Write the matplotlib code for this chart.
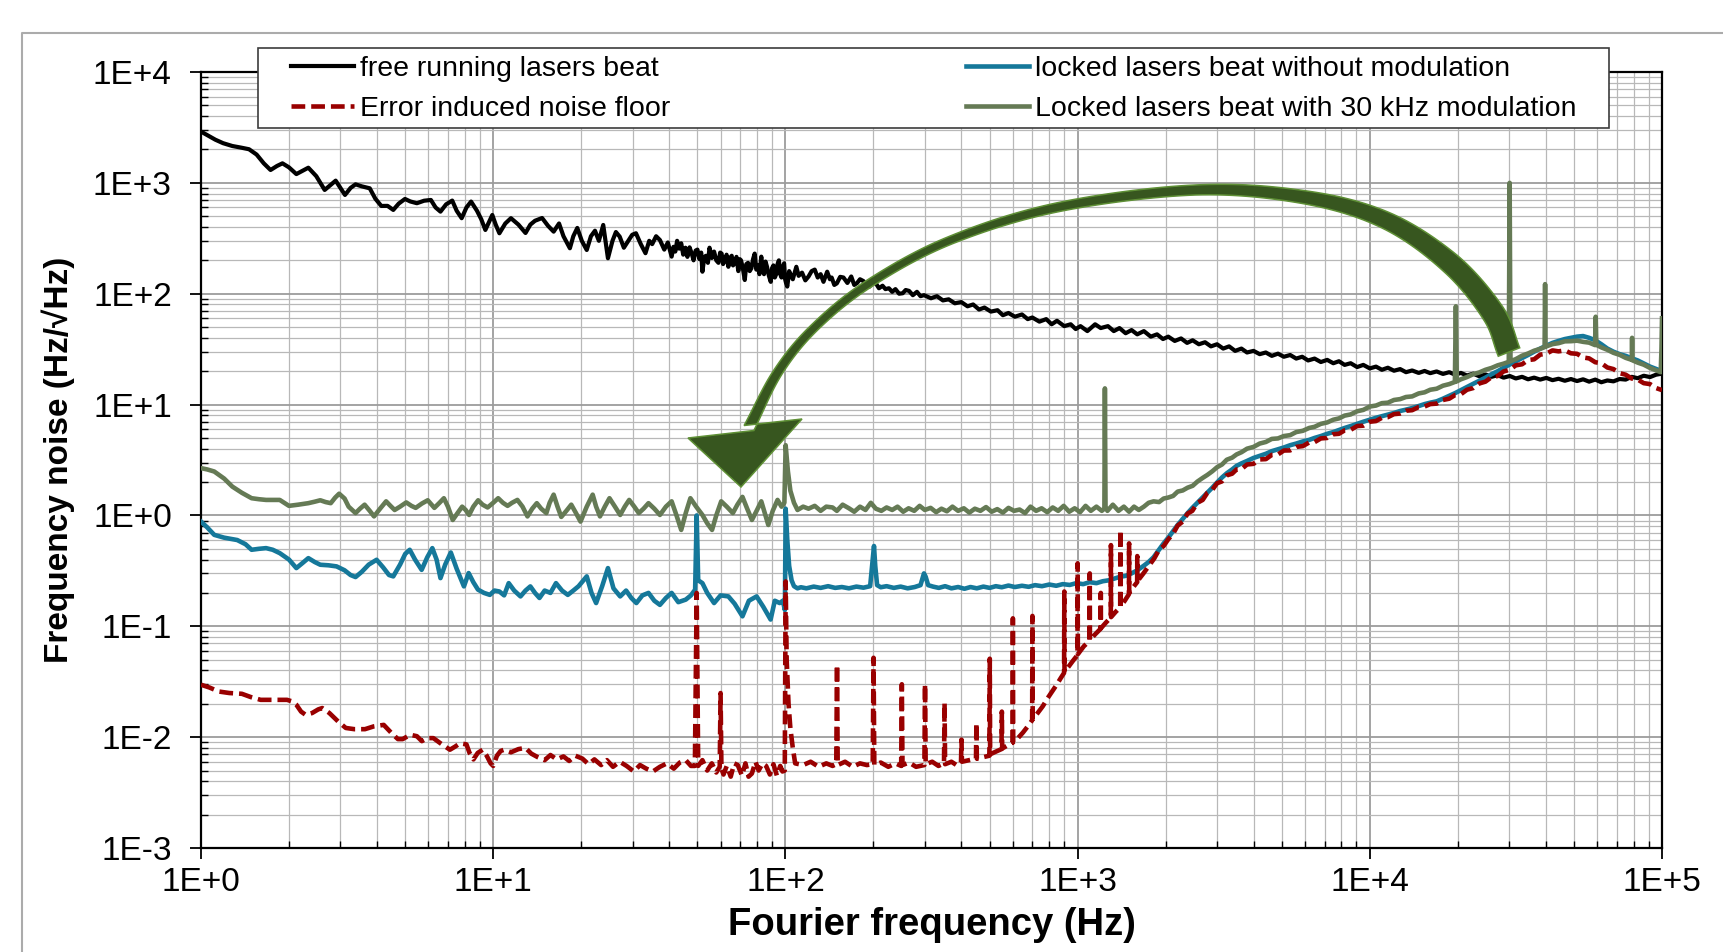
"""Frequency noise of the beat note: free running vs locked lasers."""
import matplotlib
matplotlib.use("Agg")
import matplotlib.pyplot as plt
import numpy as np
from matplotlib.lines import Line2D
from matplotlib.patches import Polygon, Rectangle
from matplotlib.ticker import LogLocator, NullFormatter

# (Fourier frequency in Hz, frequency noise in Hz/sqrt(Hz))
free_running = [
    (1.0, 2900), (1.05, 2700), (1.12, 2450), (1.19, 2280), (1.28, 2150), (1.37, 2080), (1.46, 2010),
    (1.55, 1800), (1.64, 1500), (1.73, 1306), (1.82, 1420), (1.90, 1500), (2.0, 1380), (2.12, 1200),
    (2.22, 1280), (2.33, 1370), (2.48, 1150), (2.65, 863), (2.78, 960), (2.89, 1047), (3.0, 900),
    (3.11, 778), (3.25, 900), (3.38, 970), (3.55, 930), (3.78, 893), (3.95, 720), (4.14, 619),
    (4.35, 620), (4.55, 570), (4.75, 650), (4.99, 716), (5.2, 680), (5.48, 655), (5.8, 690),
    (6.12, 701), (6.35, 600), (6.6, 550), (6.9, 640), (7.24, 692), (7.5, 560), (7.8, 480), (8.1, 600),
    (8.4, 678), (8.8, 560), (9.1, 470), (9.4, 376), (9.7, 450), (9.93, 513), (10.2, 420), (10.5, 351),
    (11.0, 430), (11.5, 480), (12.2, 420), (12.9, 353), (13.4, 420), (13.9, 455), (14.7, 482),
    (15.4, 410), (16.1, 363), (16.8, 430), (17.4, 330), (18.3, 257), (18.8, 330), (19.4, 392),
    (20.1, 300), (20.9, 248), (21.6, 330), (22.3, 370), (23.0, 300), (23.8, 417), (24.7, 209),
    (25.6, 300), (26.3, 360), (27.1, 327), (28.0, 260), (29.0, 300), (29.9, 340), (30.8, 351),
    (32.0, 280), (33.2, 232), (34.2, 300), (35.0, 280), (36.1, 330), (37.2, 305), (38.5, 250),
    (39.6, 290), (40.8, 216), (41.4, 265), (42.0, 240), (42.6, 300), (43.3, 255), (44.0, 285),
    (44.7, 225), (45.5, 260), (46.2, 215), (47.0, 262), (47.8, 230), (48.5, 200), (49.3, 245),
    (50.0, 250), (50.8, 205), (51.5, 235), (52.0, 158), (52.8, 215), (53.5, 220), (54.3, 190),
    (55.0, 260), (56.0, 210), (57.0, 240), (58.0, 200), (59.0, 190), (59.8, 235), (60.5, 230),
    (61.2, 185), (62.0, 200), (62.9, 225), (63.8, 175), (64.6, 210), (65.5, 220), (66.2, 180),
    (67.0, 190), (68.0, 215), (69.0, 160), (69.8, 205), (70.5, 200), (71.5, 170), (72.6, 133),
    (73.5, 185), (74.5, 190), (75.5, 160), (76.5, 170), (77.5, 205), (78.5, 230), (79.5, 165),
    (80.5, 180), (81.5, 150), (82.7, 216), (83.6, 160), (84.5, 150), (85.5, 195), (86.5, 175),
    (87.8, 145), (89.1, 128), (90.0, 170), (91.0, 180), (92.0, 140), (93.0, 150), (94.0, 185),
    (95.0, 200), (96.0, 150), (97.0, 140), (98.0, 175), (99.0, 188), (99.8, 135), (100.5, 125),
    (101.5, 116), (103, 160), (104, 150), (106, 135), (109, 175), (111, 145), (114, 155), (117, 132),
    (120, 143), (123, 160), (126, 165), (129, 140), (132, 150), (135, 128), (139, 158), (142, 135),
    (144, 140), (147, 120), (150, 124), (154, 142), (158, 140), (163, 125), (168, 143), (172, 120),
    (176, 125), (180, 135), (185, 130), (190, 115), (194, 116), (199, 128), (204, 124), (209, 112),
    (215, 118), (220, 110), (226, 112), (232, 104), (238, 110), (245, 100), (252, 101), (258, 108),
    (265, 106), (273, 97), (282, 104), (290, 95),
    (298, 97), (315, 91), (330, 95), (346, 87), (362, 89), (380, 82), (400, 84), (420, 77), (439, 80),
    (460, 72), (480, 75), (505, 69), (532, 71), (555, 64), (580, 67), (610, 62), (645, 65), (675, 59),
    (700, 61), (740, 56), (781, 59), (815, 53), (850, 57), (900, 51), (947, 53), (985, 48), (1023, 51),
    (1080, 46), (1148, 53), (1200, 49), (1270, 51), (1330, 46), (1391, 49), (1460, 44), (1530, 47),
    (1600, 43), (1686, 46), (1780, 41), (1870, 43), (1960, 39), (2043, 41), (2150, 37.5), (2260, 39.5),
    (2370, 36), (2476, 38), (2600, 35), (2730, 36.5), (2860, 33.5), (3000, 35), (3150, 32),
    (3300, 33.5), (3460, 30.5), (3636, 32), (3800, 29.5), (4000, 30.5), (4200, 28.5), (4406, 29.5),
    (4620, 27.5), (4850, 28.8), (5080, 27), (5340, 28), (5600, 26), (5870, 27), (6150, 25),
    (6470, 26), (6800, 24.2), (7150, 25.3), (7500, 23.6), (7840, 24.6), (8200, 22.8), (8600, 23.6),
    (9050, 21.8), (9500, 22.8), (10000, 21.2), (10500, 22), (11000, 20.6), (11530, 21.5),
    (12100, 20.2), (12700, 20.9), (13300, 19.6), (13960, 20.3), (14700, 19.3), (15400, 20.1),
    (16100, 19.2), (16930, 19.9), (17800, 18.9), (18700, 19.6), (19600, 18.6), (20500, 19.3),
    (21500, 18.3), (22600, 19), (23700, 18), (24880, 18.7), (26100, 17.8), (27400, 18.4),
    (28700, 17.5), (30150, 18.1), (31600, 17.2), (33200, 17.8), (34800, 16.9), (36500, 17.5),
    (38300, 16.8), (40200, 17.4), (42200, 16.6), (44250, 17.1), (46500, 16.4), (48800, 17),
    (51200, 16.3), (53700, 16.9), (56300, 16.1), (59100, 16.8), (62000, 15.9), (65000, 16.5),
    (68200, 16.2), (71600, 17), (75100, 16.8), (78700, 17.8), (82600, 17.3), (86600, 18.2),
    (91000, 17.7), (95400, 18.6), (100000, 19),
]

error_floor = [
    (1.0, 0.0297), (1.07, 0.028), (1.15, 0.0258), (1.25, 0.025), (1.38, 0.0246), (1.48, 0.023),
    (1.6, 0.0217), (1.75, 0.0217), (1.97, 0.0217), (2.05, 0.021), (2.12, 0.0196), (2.2, 0.017),
    (2.28, 0.0159), (2.4, 0.0165), (2.52, 0.0178), (2.6, 0.0183), (2.75, 0.0165), (2.95, 0.0138),
    (3.13, 0.0121), (3.35, 0.0118), (3.64, 0.0118), (3.9, 0.0125), (4.22, 0.0129), (4.5, 0.0108),
    (4.72, 0.0096), (4.9, 0.0096), (5.2, 0.0105), (5.48, 0.0102), (5.7, 0.0092), (5.95, 0.0098),
    (6.24, 0.0098), (6.6, 0.0088), (7.11, 0.0077), (7.4, 0.0082), (7.7, 0.0088), (8.1, 0.0086),
    (8.3, 0.0072), (8.56, 0.0063), (8.85, 0.0072), (9.2, 0.0077), (9.5, 0.0068), (9.8, 0.0058),
    (10.0, 0.0055), (10.3, 0.0068), (10.6, 0.0075), (10.9, 0.0077), (11.5, 0.0073), (12.2, 0.0078),
    (12.9, 0.008), (13.5, 0.0071), (14.2, 0.0066), (15.0, 0.0062), (15.7, 0.0069), (16.5, 0.0063),
    (17.4, 0.0067), (18.2, 0.0061), (19.1, 0.0068), (20.2, 0.0064), (21.2, 0.0057), (22.2, 0.0063),
    (23.4, 0.0056), (24.5, 0.0062), (25.7, 0.0054), (27.1, 0.006), (28.6, 0.0055), (30.3, 0.0049),
    (31.8, 0.0056), (33.4, 0.0052), (35.2, 0.0049), (37.2, 0.0054), (39.3, 0.0058), (41.5, 0.0052),
    (43.5, 0.0059), (45.6, 0.0062), (47.5, 0.0055), (49.0, 0.0055), (49.7, 0.2), (50.3, 0.0055),
    (52.0, 0.0062), (54.0, 0.005), (56.0, 0.0058), (58.0, 0.0048), (59.6, 0.0054), (60.0, 0.025),
    (60.4, 0.0052), (61.4, 0.0046), (63.0, 0.0055), (65.0, 0.0044), (66.8, 0.0058), (68.7, 0.0056),
    (71.0, 0.0045), (73.0, 0.0058), (74.8, 0.0044), (76.8, 0.0047), (79.0, 0.006), (81.0, 0.005),
    (83.5, 0.0058), (85.9, 0.0055), (88.5, 0.0046), (91.0, 0.0057), (93.5, 0.0045), (96.0, 0.0055),
    (97.7, 0.0049), (99.5, 0.005), (100.2, 0.254), (101.0, 0.05), (102.5, 0.02), (104.0, 0.012),
    (106.0, 0.008), (108.0, 0.0058), (115, 0.0056), (122, 0.006), (130, 0.0054), (138, 0.0058),
    (145, 0.0055), (149.3, 0.0057), (150.2, 0.045), (151, 0.0056), (160, 0.006), (170, 0.0054),
    (180, 0.0058), (190, 0.0056), (199, 0.0057), (200.3, 0.052), (201.5, 0.0056), (212, 0.0059),
    (225, 0.0054), (238, 0.0058), (249, 0.0055), (250.3, 0.030), (251.6, 0.0056), (265, 0.0059),
    (280, 0.0054), (299, 0.0056), (300.5, 0.030), (302, 0.0057), (318, 0.006), (334, 0.0055),
    (349, 0.0058), (350.5, 0.0204), (352, 0.0057), (370, 0.006), (385, 0.0056), (399, 0.0059),
    (400.5, 0.0095), (402, 0.006), (425, 0.0062), (449, 0.0064), (450.5, 0.0134), (452, 0.0064),
    (475, 0.0066), (499, 0.0068), (500.5, 0.051), (502, 0.007), (525, 0.0074), (549, 0.0078),
    (550.5, 0.017), (552, 0.0079), (575, 0.0084), (599, 0.0089), (600.5, 0.118), (602, 0.009),
    (625, 0.0098), (650, 0.011), (675, 0.0125), (699, 0.0142), (700.5, 0.124), (702, 0.0145),
    (730, 0.0165), (760, 0.019), (790, 0.0225), (820, 0.026), (850, 0.03), (875, 0.034), (899, 0.038),
    (900.5, 0.206), (902, 0.039), (930, 0.043), (965, 0.049), (999, 0.055), (1000.5, 0.37),
    (1002, 0.056), (1050, 0.066), (1099, 0.074), (1100.5, 0.30), (1102, 0.075), (1150, 0.085),
    (1199, 0.095), (1200.5, 0.2), (1202, 0.096), (1250, 0.108), (1299, 0.12), (1300.5, 0.54),
    (1302, 0.121), (1350, 0.135), (1399, 0.148), (1400.5, 0.74), (1402, 0.15), (1450, 0.17),
    (1499, 0.195), (1500.5, 0.56), (1502, 0.2), (1550, 0.225), (1599, 0.25), (1600.5, 0.43),
    (1602, 0.255), (1680, 0.3), (1752, 0.35), (1830, 0.41), (1900, 0.49), (1970, 0.53), (2043, 0.61),
    (2120, 0.68), (2200, 0.81), (2290, 0.88), (2380, 1.04), (2470, 1.1), (2570, 1.3), (2680, 1.38),
    (2780, 1.6), (2890, 1.7), (3000, 1.95), (3120, 2.03), (3240, 2.3), (3380, 2.38), (3500, 2.6),
    (3640, 2.62), (3800, 2.88), (4000, 2.92), (4200, 3.2), (4410, 3.22), (4620, 3.52), (4850, 3.55),
    (5080, 3.85), (5340, 3.86), (5600, 4.15), (5900, 4.22), (6200, 4.55), (6470, 4.58), (6800, 4.95),
    (7150, 5.0), (7500, 5.4), (7840, 5.45), (8200, 5.85), (8600, 5.92), (9050, 6.4), (9500, 6.45),
    (10000, 7.0), (10500, 7.1), (11000, 7.6), (11530, 7.7), (12100, 8.2), (12700, 8.3), (13300, 8.8),
    (13960, 8.9), (14700, 9.5), (15400, 9.6), (16100, 10.1), (16940, 10.2), (17800, 11.0),
    (18700, 11.3), (19600, 12.2), (20500, 12.4), (21500, 13.6), (22600, 14.1), (23700, 15.5),
    (24880, 16.1), (26100, 17.7), (27400, 18.1), (28700, 19.9), (30150, 20.6), (31600, 22.6),
    (33200, 23.1), (34800, 25.2), (36500, 25.6), (38300, 28.2), (40200, 28.8), (42200, 30.8),
    (44250, 30.2), (46500, 30.8), (48800, 29.0), (51200, 28.7), (53700, 26.6), (56300, 26.1),
    (59100, 24.1), (62000, 23.6), (65000, 21.6), (68200, 20.9), (71600, 19.2), (75100, 18.6),
    (78700, 17.2), (82600, 16.8), (86600, 15.6), (91000, 15.3), (95400, 14.1), (100000, 13.5),
]

locked_no_mod = [
    (1.0, 0.88), (1.05, 0.78), (1.11, 0.668), (1.2, 0.63), (1.33, 0.6), (1.42, 0.55), (1.49, 0.49),
    (1.58, 0.5), (1.67, 0.507), (1.76, 0.49), (1.86, 0.457), (2.0, 0.4), (2.12, 0.335), (2.22, 0.37),
    (2.33, 0.412), (2.45, 0.38), (2.56, 0.359), (2.73, 0.355), (2.91, 0.347), (3.1, 0.32),
    (3.25, 0.29), (3.38, 0.278), (3.55, 0.31), (3.75, 0.36), (3.99, 0.398), (4.2, 0.34), (4.4, 0.29),
    (4.55, 0.282), (4.8, 0.36), (5.0, 0.45), (5.18, 0.49), (5.4, 0.4), (5.69, 0.323), (5.95, 0.42),
    (6.19, 0.507), (6.4, 0.4), (6.6, 0.272), (6.85, 0.36), (7.16, 0.463), (7.5, 0.33), (7.94, 0.229),
    (8.24, 0.302), (8.55, 0.25), (8.87, 0.214), (9.3, 0.2), (9.74, 0.192), (10.1, 0.21),
    (10.5, 0.206), (10.9, 0.19), (11.3, 0.245), (11.8, 0.21), (12.4, 0.186), (12.9, 0.21),
    (13.4, 0.229), (13.9, 0.2), (14.4, 0.18), (15.0, 0.21), (15.7, 0.2), (16.4, 0.245), (17.2, 0.21),
    (18.0, 0.192), (18.8, 0.21), (19.6, 0.23), (20.9, 0.282), (21.7, 0.2), (22.5, 0.162),
    (23.6, 0.23), (24.7, 0.335), (25.8, 0.22), (27.2, 0.186), (28.5, 0.21), (29.7, 0.18),
    (30.9, 0.162), (32.4, 0.19), (34.0, 0.2), (35.6, 0.17), (37.2, 0.156), (39.0, 0.18), (40.8, 0.2),
    (43.0, 0.165), (45.6, 0.174), (47.5, 0.19), (49.1, 0.214), (49.7, 1.0), (50.3, 0.26),
    (52.0, 0.245), (54.0, 0.2), (57.0, 0.162), (60.0, 0.19), (63.8, 0.186), (67.0, 0.16),
    (71.3, 0.123), (75.0, 0.17), (79.7, 0.186), (84.0, 0.15), (89.0, 0.115), (92.0, 0.17),
    (95.6, 0.162), (98.0, 0.17), (99.6, 0.14), (100.2, 1.15), (101.5, 0.6), (103, 0.35), (105, 0.26),
    (107, 0.23), (110, 0.22), (113, 0.225), (118, 0.22), (125, 0.228), (132, 0.222), (140, 0.23),
    (148, 0.222), (156, 0.226), (165, 0.22), (175, 0.228), (185, 0.223), (195, 0.23), (199, 0.4),
    (201, 0.53), (203, 0.35), (206, 0.235), (212, 0.225), (222, 0.23), (235, 0.222), (248, 0.228),
    (262, 0.22), (277, 0.226), (290, 0.235), (298, 0.3), (302, 0.28), (308, 0.235), (320, 0.228),
    (335, 0.222), (352, 0.23), (370, 0.22), (390, 0.226), (410, 0.218), (430, 0.226), (452, 0.22),
    (476, 0.228), (500, 0.222), (525, 0.23), (550, 0.225), (580, 0.233), (610, 0.226), (645, 0.232),
    (680, 0.227), (715, 0.235), (755, 0.23), (800, 0.238), (845, 0.232), (890, 0.24), (940, 0.236),
    (990, 0.245), (1045, 0.24), (1100, 0.25), (1160, 0.245), (1220, 0.255), (1280, 0.26),
    (1340, 0.27), (1400, 0.28), (1460, 0.285), (1530, 0.3), (1600, 0.32), (1680, 0.35), (1750, 0.38),
    (1820, 0.42), (1900, 0.49), (1970, 0.56), (2043, 0.63), (2120, 0.72), (2200, 0.82), (2290, 0.93),
    (2380, 1.05), (2470, 1.17), (2570, 1.3), (2680, 1.45), (2780, 1.6), (2890, 1.78), (3000, 1.98),
    (3120, 2.2), (3240, 2.4), (3380, 2.6), (3500, 2.8), (3640, 2.95), (3800, 3.1), (4000, 3.3),
    (4200, 3.45), (4410, 3.6), (4620, 3.8), (4850, 3.95), (5080, 4.1), (5340, 4.3), (5600, 4.45),
    (5900, 4.65), (6200, 4.8), (6470, 5.0), (6800, 5.2), (7150, 5.45), (7500, 5.65), (7840, 5.9),
    (8200, 6.15), (8600, 6.4), (9050, 6.7), (9500, 7.0), (10000, 7.3), (10500, 7.6), (11000, 7.85),
    (11530, 8.1), (12100, 8.4), (12700, 8.75), (13300, 9.0), (13960, 9.3), (14700, 9.7),
    (15400, 10.1), (16100, 10.4), (16940, 10.7), (17800, 11.3), (18700, 12.0), (19600, 12.7),
    (20500, 13.5), (21500, 14.4), (22600, 15.4), (23700, 16.4), (24880, 17.5), (26100, 18.8),
    (27400, 20.0), (28700, 21.5), (30150, 23.0), (31600, 24.6), (33200, 26.3), (34800, 28.0),
    (36500, 30.0), (38300, 32.0), (40200, 34.0), (42200, 36.0), (44250, 37.5), (46500, 39.0),
    (48800, 40.0), (51200, 41.0), (53700, 41.5), (56300, 40.0), (59100, 38.0), (62000, 35.0),
    (65000, 32.0), (68200, 30.0), (71600, 28.5), (75100, 27.5), (78700, 26.2), (82600, 25.0),
    (86600, 23.5), (91000, 22.0), (95400, 21.0), (100000, 20.0),
]

locked_30k_mod = [
    (1.0, 2.67), (1.05, 2.6), (1.11, 2.49), (1.2, 2.15), (1.28, 1.82), (1.38, 1.6), (1.49, 1.43),
    (1.58, 1.4), (1.67, 1.38), (1.76, 1.38), (1.86, 1.38), (2.0, 1.22), (2.15, 1.25), (2.33, 1.29),
    (2.45, 1.33), (2.56, 1.37), (2.67, 1.32), (2.78, 1.29), (2.88, 1.45), (2.97, 1.57), (3.1, 1.42),
    (3.2, 1.2), (3.38, 1.05), (3.5, 1.15), (3.63, 1.25), (3.78, 1.1), (3.91, 0.98), (4.1, 1.15),
    (4.3, 1.34), (4.45, 1.22), (4.6, 1.12), (4.8, 1.2), (5.04, 1.31), (5.25, 1.22), (5.43, 1.17),
    (5.7, 1.28), (5.97, 1.37), (6.15, 1.25), (6.29, 1.17), (6.55, 1.3), (6.78, 1.43), (7.0, 1.2),
    (7.27, 0.91), (7.55, 1.05), (7.83, 1.2), (8.05, 1.12), (8.27, 1.01), (8.55, 1.2), (8.88, 1.37),
    (9.2, 1.25), (9.57, 1.18), (10.0, 1.3), (10.4, 1.43), (10.8, 1.3), (11.2, 1.22), (11.6, 1.3),
    (12.1, 1.38), (12.6, 1.2), (13.1, 0.98), (13.6, 1.15), (14.1, 1.29), (14.6, 1.15), (15.2, 1.05),
    (15.6, 1.3), (16.1, 1.54), (16.6, 1.2), (17.1, 0.97), (17.8, 1.1), (18.5, 1.25), (19.2, 1.05),
    (19.9, 0.88), (20.9, 1.2), (21.9, 1.54), (22.5, 1.2), (23.2, 0.98), (24.1, 1.2), (25.0, 1.43),
    (26.1, 1.2), (27.2, 1.01), (28.2, 1.2), (29.2, 1.38), (30.4, 1.2), (31.5, 1.05), (32.7, 1.15),
    (34.0, 1.29), (35.6, 1.15), (37.2, 1.01), (39.0, 1.2), (40.8, 1.34), (42.4, 1.0), (44.0, 0.74),
    (45.6, 1.05), (47.3, 1.43), (49.5, 1.2), (52.0, 1.01), (54.0, 0.85), (56.1, 0.74), (58.0, 1.0),
    (60.3, 1.34), (63.0, 1.2), (66.1, 1.05), (68.5, 1.25), (71.3, 1.47), (74.0, 1.15), (76.8, 0.91),
    (79.7, 1.1), (82.7, 1.34), (85.0, 1.05), (87.4, 0.82), (90.5, 1.1), (94.0, 1.38), (97.0, 1.2),
    (99.2, 1.3), (100.2, 4.3), (102, 2.5), (104, 1.67), (107, 1.3), (110, 1.12), (115, 1.2),
    (120, 1.15), (126, 1.22), (132, 1.1), (138, 1.2), (145, 1.18), (150, 1.1), (157, 1.25),
    (165, 1.16), (172, 1.08), (180, 1.2), (188, 1.12), (196, 1.3), (204, 1.15), (213, 1.1),
    (222, 1.18), (232, 1.12), (242, 1.2), (253, 1.08), (264, 1.16), (276, 1.1), (288, 1.22),
    (300, 1.12), (314, 1.17), (328, 1.07), (342, 1.15), (357, 1.09), (373, 1.2), (390, 1.1),
    (408, 1.16), (426, 1.06), (445, 1.15), (465, 1.1), (486, 1.19), (508, 1.08), (531, 1.14),
    (555, 1.06), (580, 1.17), (606, 1.1), (633, 1.13), (661, 1.05), (690, 1.2), (721, 1.1),
    (753, 1.16), (787, 1.07), (822, 1.18), (858, 1.1), (896, 1.22), (936, 1.08), (977, 1.16),
    (1020, 1.07), (1065, 1.22), (1110, 1.1), (1160, 1.2), (1210, 1.1), (1235, 1.15), (1240, 14.0),
    (1246, 1.2), (1265, 1.1), (1320, 1.25), (1380, 1.1), (1440, 1.2), (1500, 1.08), (1560, 1.2),
    (1620, 1.12), (1686, 1.2), (1750, 1.3), (1820, 1.34), (1900, 1.32), (1970, 1.42), (2043, 1.45),
    (2123, 1.5), (2200, 1.64), (2290, 1.68), (2380, 1.78), (2476, 1.85), (2570, 2.02), (2680, 2.18),
    (2780, 2.32), (2890, 2.5), (3000, 2.72), (3120, 2.88), (3240, 3.18), (3380, 3.32), (3500, 3.55),
    (3640, 3.72), (3800, 4.0), (4000, 4.15), (4200, 4.45), (4410, 4.6), (4620, 4.9), (4850, 4.95),
    (5080, 5.2), (5340, 5.3), (5600, 5.65), (5900, 5.8), (6200, 6.15), (6470, 6.3), (6800, 6.7),
    (7150, 6.9), (7500, 7.3), (7840, 7.5), (8200, 7.95), (8600, 8.15), (9050, 8.7), (9500, 8.95),
    (10000, 9.6), (10500, 9.8), (11000, 10.3), (11530, 10.4), (12100, 11.0), (12700, 11.2),
    (13300, 11.7), (13960, 11.85), (14700, 12.6), (15400, 12.9), (16100, 13.6), (16940, 13.9),
    (17800, 14.8), (18700, 15.3), (19550, 16.0), (19700, 77.0), (19850, 16.2), (20500, 16.9),
    (21500, 17.7), (22600, 18.8), (23700, 19.5), (24880, 20.6), (26100, 21.4), (27400, 22.6),
    (28700, 23.4), (29900, 24.3), (30100, 1000.0), (30300, 24.6), (31600, 25.7), (33200, 27.6),
    (34800, 28.9), (36500, 30.6), (38300, 31.8), (39650, 33.0), (39800, 122.0), (39950, 33.3),
    (42200, 35.1), (44250, 35.8), (46500, 37.2), (48800, 37.3), (51200, 37.7), (53700, 36.8),
    (56300, 36.2), (59000, 34.4), (59300, 62.0), (59600, 34.6), (62000, 32.8), (65000, 31.2),
    (68200, 29.3), (71600, 28.1), (75100, 26.4), (78800, 25.3), (79000, 40.0), (79200, 25.1),
    (82600, 23.9), (86600, 22.9), (91000, 21.4), (95400, 20.4), (99000, 19.6), (99600, 32.0),
    (100000, 60.0),
]

series_labels = [
    "free running lasers beat",
    "Error induced noise floor",
    "locked lasers beat without modulation",
    "Locked lasers beat with 30 kHz modulation",
]
x_ticks = [1e0, 1e1, 1e2, 1e3, 1e4, 1e5]
x_tick_labels = ["1E+0", "1E+1", "1E+2", "1E+3", "1E+4", "1E+5"]
y_ticks = [1e-3, 1e-2, 1e-1, 1e0, 1e1, 1e2, 1e3, 1e4]
y_tick_labels = ["1E-3", "1E-2", "1E-1", "1E+0", "1E+1", "1E+2", "1E+3", "1E+4"]

# curved arrow drawn over the chart (picture pixels, y downwards)
arrow_path = [(1509, 352), (1493, 313), (1450, 263), (1385, 220), (1303, 197), (1195, 190),
              (1059, 207), (951, 240), (870, 283), (815, 327), (778, 372), (749, 428)]
arrow_width = [23, 23, 21, 17, 13, 10, 9, 8, 8, 8, 9, 11]
arrow_head = [(688, 438), (741, 487), (802, 419)]

W, H = 1724, 952

plt.rcParams["font.family"] = ["Liberation Sans", "DejaVu Sans"]

fig = plt.figure(figsize=(W / 100, H / 100), dpi=100)
ax = fig.add_axes([201 / W, 1 - 848 / H, 1461 / W, 776 / H])

styles = [
    dict(color="black", lw=3.0, zorder=3),
    dict(color="#990000", lw=3.3, ls=(0, (3.0, 1.3)), zorder=6),
    dict(color="#15789a", lw=3.3, zorder=4),
    dict(color="#657a55", lw=3.3, zorder=5),
]
handles = []
for data, label, style in zip([free_running, error_floor, locked_no_mod, locked_30k_mod],
                              series_labels, styles):
    freq, noise = zip(*data)
    line, = ax.plot(freq, noise, label=label, solid_joinstyle="round", **style)
    handles.append(line)

ax.set_xscale("log")
ax.set_yscale("log")
ax.set_xlim(1, 1e5)
ax.set_ylim(1e-3, 1e4)
ax.set_xticks(x_ticks)
ax.set_xticklabels(x_tick_labels)
ax.set_yticks(y_ticks)
ax.set_yticklabels(y_tick_labels)
for axis in (ax.xaxis, ax.yaxis):
    axis.set_minor_locator(LogLocator(base=10, subs=np.arange(2, 10), numticks=20))
    axis.set_minor_formatter(NullFormatter())

ax.grid(True, which="major", color="#9c9c9c", lw=1.3)
ax.grid(True, which="minor", color="#b8b8b8", lw=0.9)
ax.set_axisbelow(True)

ax.tick_params(which="major", direction="out", length=8, width=1.3, labelsize=24)
ax.tick_params(axis="x", which="major", pad=6)
ax.tick_params(axis="y", which="major", pad=13)
ax.tick_params(which="minor", direction="in", length=5, width=1.0)
for spine in ax.spines.values():
    spine.set_color("black")
    spine.set_linewidth(1.6)

ax.set_xlabel("Fourier frequency (Hz)", fontsize=27.5, fontweight="bold")
ax.set_ylabel("Frequency noise (Hz/\u221aHz)", fontsize=24, fontweight="bold")
ax.xaxis.set_label_coords(0.5, -0.076)
ax.yaxis.set_label_coords(-0.086, 0.5)

# chart area border of the original spreadsheet
fig.add_artist(Line2D([22 / W, 22 / W, 1.0], [0, 1 - 33 / H, 1 - 33 / H],
                      transform=fig.transFigure, color="#ababab", lw=1.5))

# legend box drawn separately so the entries can sit where they do in the original
fig.add_artist(Rectangle((258 / W, 1 - 128 / H), 1351 / W, 80 / H, transform=fig.transFigure,
                         facecolor="white", edgecolor="#3c3c3c", lw=1.2, zorder=4))
fig.legend(handles, series_labels, loc="upper left", bbox_to_anchor=(291 / W, 1 - 56 / H),
           ncol=2, frameon=False, fontsize=20.5, handlelength=2.2, handletextpad=0.22,
           columnspacing=10.4, borderpad=0, borderaxespad=0, labelspacing=0.5)

# curved arrow: Catmull-Rom centreline, offset on both sides
pts = np.array(arrow_path, dtype=float)
ext = np.vstack([2 * pts[0] - pts[1], pts, 2 * pts[-1] - pts[-2]])
centre = []
widths = []
for i in range(len(pts) - 1):
    p0, p1, p2, p3 = ext[i], ext[i + 1], ext[i + 2], ext[i + 3]
    for t in np.linspace(0, 1, 16, endpoint=(i == len(pts) - 2)):
        c = 0.5 * (2 * p1 + (p2 - p0) * t + (2 * p0 - 5 * p1 + 4 * p2 - p3) * t ** 2
                   + (-p0 + 3 * p1 - 3 * p2 + p3) * t ** 3)
        centre.append(c)
        widths.append(arrow_width[i] + (arrow_width[i + 1] - arrow_width[i]) * t)
centre = np.array(centre)
widths = np.array(widths)
tang = np.gradient(centre, axis=0)
tang /= np.linalg.norm(tang, axis=1)[:, None]
normal = np.column_stack([tang[:, 1], -tang[:, 0]])
outer = centre + normal * widths[:, None] / 2
inner = centre - normal * widths[:, None] / 2
outline = np.vstack([outer, np.array(arrow_head), inner[::-1]])
outline_fig = np.column_stack([outline[:, 0] / W, 1 - outline[:, 1] / H])
fig.add_artist(Polygon(outline_fig, closed=True, transform=fig.transFigure,
                       facecolor="#37561f", edgecolor="#5f9036", lw=1.1, zorder=3))

fig.savefig("out.png", dpi=100)
